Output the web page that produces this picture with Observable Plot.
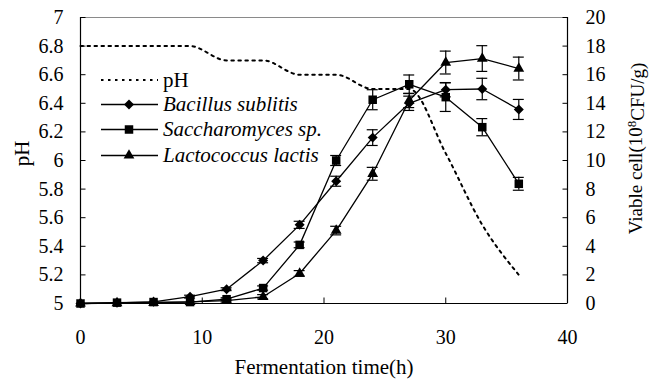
<!DOCTYPE html>
<html>
<head>
<meta charset="utf-8">
<script src="https://cdn.jsdelivr.net/npm/d3@7"></script>
<script src="https://cdn.jsdelivr.net/npm/@observablehq/plot@0.6"></script>
<style>
  html, body { margin: 0; padding: 0; background: #fff; }
  #chart { width: 649px; height: 385px; }
  #chart svg, #chart svg text { font-family: "Liberation Serif", "Times New Roman", Tinos, "DejaVu Serif", serif; }
</style>
</head>
<body>
<div id="chart"></div>
<script>
// ---- data ----
const times = [0, 3, 6, 9, 12, 15, 18, 21, 24, 27, 30, 33, 36];
const pHValues = [6.8, 6.8, 6.8, 6.8, 6.7, 6.7, 6.6, 6.6, 6.5, 6.5, 6.05, 5.55, 5.2];
const bacillus = [0, 0.05, 0.12, 0.48, 1.0, 3.0, 5.5, 8.55, 11.6, 14.0, 14.95, 15.0, 13.57];
const bacillusErr = [0, 0, 0, 0.1, 0.1, 0.15, 0.25, 0.35, 0.55, 0.5, 0.5, 0.75, 0.7];
const sacch = [0, 0.06, 0.1, 0.1, 0.3, 1.08, 4.1, 10.0, 14.25, 15.33, 14.43, 12.33, 8.37];
const sacchErr = [0, 0, 0, 0, 0.1, 0.15, 0.2, 0.35, 0.7, 0.65, 1.0, 0.6, 0.45];
const lacto = [0, 0.03, 0.05, 0.12, 0.2, 0.47, 2.1, 5.1, 9.07, 14.2, 16.85, 17.13, 16.43];
const lactoErr = [0, 0, 0, 0, 0.1, 0.15, 0.2, 0.3, 0.45, 0.5, 0.8, 0.9, 0.8];

const xTicks = [0, 10, 20, 30, 40];
const pHTicks = [5, 5.2, 5.4, 5.6, 5.8, 6, 6.2, 6.4, 6.6, 6.8, 7];
const cellTicks = [0, 2, 4, 6, 8, 10, 12, 14, 16, 18, 20];

const seriesNames = ["Bacillus sublitis", "Saccharomyces sp.", "Lactococcus lactis"];
const seriesSymbols = ["diamond2", "square", "triangle"];
const seriesR = [4.5, 4.8, 4.0];
const seriesValues = [bacillus, sacch, lacto];
const seriesErrs = [bacillusErr, sacchErr, lactoErr];

const leftLabel = "pH";
const bottomLabel = "Fermentation time(h)";
const rightLabel = "Viable cell(10^8CFU/g)";

// pH (5..7) mapped onto the viable-cell scale (0..20)
const pHToCell = p => (p - 5) * 10;

const pHData = times.map((t, i) => ({t, v: pHToCell(pHValues[i])}));
const series = seriesNames.map((name, k) =>
  times.map((t, i) => ({name, t, v: seriesValues[k][i], e: seriesErrs[k][i]})));

const tickRight = {draw(ctx) { ctx.moveTo(0, 0); ctx.lineTo(5, 0); }};
const tickLeft = {draw(ctx) { ctx.moveTo(0, 0); ctx.lineTo(-5, 0); }};
const tickUp = {draw(ctx) { ctx.moveTo(0, 0); ctx.lineTo(0, -6); }};

const font = "'Liberation Serif', 'Times New Roman', Tinos, 'DejaVu Serif', serif";
const capHalf = 0.45;

const marks = [
  // frame
  Plot.ruleY([20], {stroke: "#8a8a8a", strokeWidth: 1.2}),
  Plot.ruleX([0], {stroke: "#000", strokeWidth: 1.2}),
  Plot.ruleX([40], {stroke: "#000", strokeWidth: 1.2}),
  Plot.ruleY([0], {stroke: "#000", strokeWidth: 1.2}),
  // inward ticks
  Plot.dot(pHTicks.map(pHToCell), {x: () => 0, y: d => d, symbol: tickRight, stroke: "#000", fill: "none", r: 3, strokeWidth: 1}),
  Plot.dot(cellTicks, {x: () => 40, y: d => d, symbol: tickLeft, stroke: "#000", fill: "none", r: 3, strokeWidth: 1}),
  Plot.dot(xTicks.slice(1, -1), {x: d => d, y: () => 0, symbol: tickUp, stroke: "#000", fill: "none", r: 3, strokeWidth: 1}),
  // axis labels (text only)
  Plot.axisY({anchor: "left", ticks: pHTicks.map(pHToCell), tickFormat: v => String(+(5 + v / 10).toFixed(1)), tickSize: 0, tickPadding: 17, label: null, fontSize: 20}),
  Plot.axisY({anchor: "right", ticks: cellTicks, tickSize: 0, tickPadding: 18, label: null, fontSize: 20}),
  Plot.axisX({ticks: xTicks, tickSize: 0, tickPadding: 26, label: null, fontSize: 20}),
  Plot.text([leftLabel], {frameAnchor: "left", dx: -58, dy: -7, rotate: -90, fontSize: 21, textAnchor: "middle", lineAnchor: "middle"}),
  Plot.text([bottomLabel], {frameAnchor: "bottom", dy: 64, fontSize: 21, textAnchor: "middle", lineAnchor: "middle"}),
  Plot.text([rightLabel], {frameAnchor: "right", dx: 68, dy: -12, rotate: -90, fontSize: 19, textAnchor: "middle", lineAnchor: "middle"}),
  // pH dotted line
  Plot.line(pHData, {x: "t", y: "v", curve: "monotone-x", stroke: "#000", strokeWidth: 2, strokeDasharray: "2.5,4.5"})
];

series.forEach((data, k) => {
  const withErr = data.filter(d => d.e > 0);
  marks.push(
    Plot.ruleX(withErr, {x: "t", y1: d => d.v - d.e, y2: d => d.v + d.e, stroke: "#000", strokeWidth: 1.2}),
    Plot.ruleY(withErr, {y: d => d.v + d.e, x1: d => d.t - capHalf, x2: d => d.t + capHalf, stroke: "#000", strokeWidth: 1.2}),
    Plot.ruleY(withErr, {y: d => d.v - d.e, x1: d => d.t - capHalf, x2: d => d.t + capHalf, stroke: "#000", strokeWidth: 1.2}),
    Plot.line(data, {x: "t", y: "v", stroke: "#000", strokeWidth: 1.3}),
    Plot.dot(data, {x: "t", y: "v", symbol: () => seriesSymbols[k], fill: "#000", stroke: "none", r: seriesR[k]})
  );
});

const chart = Plot.plot({
  width: 649,
  height: 385,
  marginLeft: 80,
  marginRight: 82,
  marginTop: 17,
  marginBottom: 82,
  style: {fontFamily: font, fontSize: "20px", color: "#000", background: "#fff"},
  x: {domain: [0, 40]},
  y: {domain: [0, 20]},
  symbol: {domain: seriesSymbols, range: seriesSymbols},
  marks
});

document.getElementById("chart").appendChild(chart);

const svg = d3.select(chart);

// superscript in the right axis label
svg.selectAll("text").filter(function() { return this.textContent === rightLabel; }).each(function() {
  const t = d3.select(this);
  t.text(null);
  t.append("tspan").text("Viable cell(10");
  t.append("tspan").attr("dy", "-0.45em").attr("font-size", "13px").text("8");
  t.append("tspan").attr("dy", "0.45em").text("CFU/g)");
});

// legend
const legend = svg.append("g").attr("font-family", font).attr("font-size", 21).attr("text-anchor", "start");
const rows = [{label: "pH", symbol: null}].concat(seriesNames.map((n, k) => ({label: n, symbol: seriesSymbols[k], r: seriesR[k]})));
const rowY = [80, 104.5, 129.5, 155.5];
const symMap = {diamond2: d3.symbolDiamond2, square: d3.symbolSquare, triangle: d3.symbolTriangle};
rows.forEach((row, i) => {
  const y = rowY[i];
  const g = legend.append("g");
  g.append("line").attr("x1", 101).attr("x2", 158).attr("y1", y).attr("y2", y)
    .attr("stroke", "#000").attr("stroke-width", row.symbol ? 1.3 : 2)
    .attr("stroke-dasharray", row.symbol ? null : "2.5,4.5");
  if (row.symbol) {
    g.append("path").attr("d", d3.symbol(symMap[row.symbol], Math.PI * row.r * row.r)())
      .attr("transform", `translate(129,${y})`).attr("fill", "#000");
  }
  g.append("text").attr("x", 163).attr("y", y).attr("dy", "0.32em").attr("text-anchor", "start")
    .attr("font-style", row.symbol ? "italic" : "normal").text(row.label);
});
</script>
</body>
</html>
